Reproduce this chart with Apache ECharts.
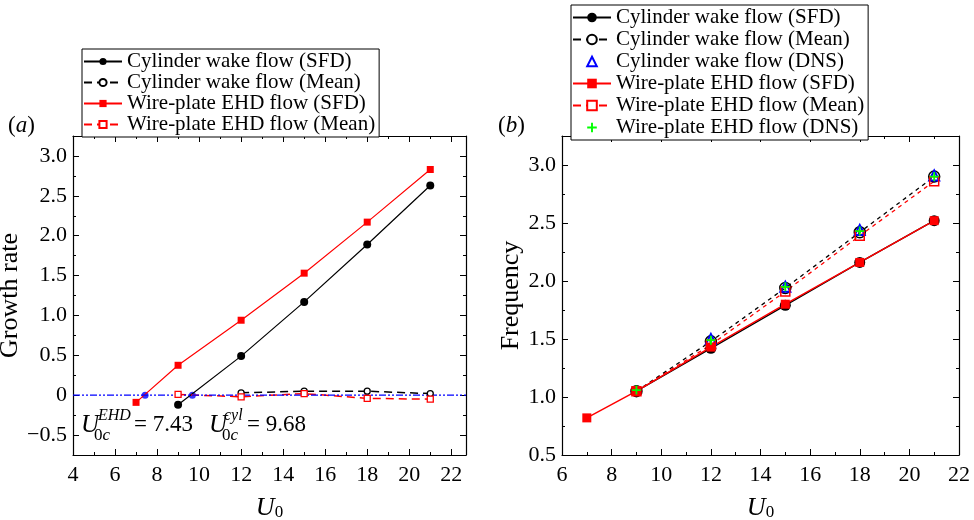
<!DOCTYPE html>
<html>
<head>
<meta charset="utf-8">
<script src="https://cdn.jsdelivr.net/npm/echarts@6/dist/echarts.min.js"></script>
<style>
  html, body { margin: 0; padding: 0; background: #fff; }
  #chart { width: 974px; height: 520px; }
</style>
</head>
<body>
<div id="chart"></div>
<script>
// ---- Panel (a): growth rate against inflow velocity U0 ----
const uCylA = [9, 12, 15, 18, 21];
const growthCylSFD = [-0.12, 0.49, 1.17, 1.89, 2.63];
const uCylMeanA = [12, 15, 18, 21];
const growthCylMean = [0.03, 0.05, 0.05, 0.02];
const uEhdA = [7, 9, 12, 15, 18, 21];
const growthEhdSFD = [-0.09, 0.375, 0.94, 1.53, 2.17, 2.83];
const uEhdMeanA = [9, 12, 15, 18, 21];
const growthEhdMean = [0.01, -0.02, 0.02, -0.04, -0.05];
const criticalU = [7.43, 9.68];
const xRangeA = [4, 22.7];
const yRangeA = [-0.75, 3.25];
const xMajorA = [4, 6, 8, 10, 12, 14, 16, 18, 20, 22];
const yMajorA = [-0.5, 0, 0.5, 1.0, 1.5, 2.0, 2.5, 3.0];

// ---- Panel (b): frequency against inflow velocity U0 ----
const uCylB = [9, 12, 15, 18, 21];
const freqCylSFD = [1.05, 1.42, 1.79, 2.16, 2.52];
const freqCylMean = [1.05, 1.48, 1.94, 2.42, 2.90];
const uCylDnsB = [12, 15, 18, 21];
const freqCylDNS = [1.50, 1.95, 2.44, 2.91];
const uEhdB = [7, 9, 12, 15, 18, 21];
const freqEhdSFD = [0.82, 1.05, 1.43, 1.80, 2.16, 2.52];
const uEhdMeanB = [9, 12, 15, 18, 21];
const freqEhdMean = [1.05, 1.45, 1.91, 2.39, 2.86];
const freqEhdDNS = [1.06, 1.49, 1.95, 2.43, 2.90];
const xRangeB = [6, 22];
const yRangeB = [0.5, 3.25];
const xMajorB = [6, 8, 10, 12, 14, 16, 18, 20, 22];
const yMajorB = [0.5, 1.0, 1.5, 2.0, 2.5, 3.0];

const NAME_CYL_SFD = 'Cylinder wake flow (SFD)';
const NAME_CYL_MEAN = 'Cylinder wake flow (Mean)';
const NAME_CYL_DNS = 'Cylinder wake flow (DNS)';
const NAME_EHD_SFD = 'Wire-plate EHD flow (SFD)';
const NAME_EHD_MEAN = 'Wire-plate EHD flow (Mean)';
const NAME_EHD_DNS = 'Wire-plate EHD flow (DNS)';

const SERIF = 'Liberation Serif, Times New Roman, serif';
const PLUS = 'path://M4,0L6,0L6,4L10,4L10,6L6,6L6,10L4,10L4,6L0,6L0,4L4,4Z';

const zip = (xs, ys) => xs.map((x, i) => [x, ys[i]]);
const isMultiple = (v, step) => Math.abs(v / step - Math.round(v / step)) < 1e-6;
const fmtSigned = v => {
  if (Math.abs(v) < 1e-9) return '0';
  const s = Math.abs(v).toFixed(1);
  return v < 0 ? '\u2212' + s : s;
};

// Four axes per direction: labelled side with minor ticks, its major ticks,
// and the mirrored side (top / right) with both tick sizes.
function axisGroup(dim, gridIndex, range, minorStep, majorStep, majors, fmt, name, nameGap, nameRich) {
  const sides = dim === 'x' ? ['bottom', 'top'] : ['left', 'right'];
  const out = [];
  sides.forEach((pos, k) => {
    const main = {
      type: 'value', gridIndex, position: pos,
      min: range[0], max: range[1], interval: minorStep,
      axisLine: { show: true, onZero: false, lineStyle: { color: '#000', width: 1.2 } },
      axisTick: { show: true, inside: true, length: 3, lineStyle: { color: '#000', width: 1 } },
      axisLabel: {
        show: k === 0,
        margin: dim === 'x' ? 9 : 6,
        color: '#000', fontFamily: SERIF, fontSize: 22,
        formatter: v => isMultiple(v, majorStep) && majors.some(m => Math.abs(m - v) < 1e-6) ? fmt(v) : ''
      },
      splitLine: { show: false }
    };
    if (k === 0) {
      Object.assign(main, {
        name, nameLocation: 'middle', nameGap,
        nameTextStyle: Object.assign({ color: '#000', fontFamily: SERIF, fontSize: 26 }, nameRich ? { rich: nameRich } : {})
      });
    }
    const major = {
      type: 'value', gridIndex, position: pos,
      min: range[0], max: range[1],
      axisLine: { show: false, onZero: false },
      axisTick: { show: true, inside: true, length: 6, customValues: majors, lineStyle: { color: '#000', width: 1 } },
      axisLabel: { show: false },
      splitLine: { show: false }
    };
    out.push(main, major);
  });
  return out;
}

const u0Rich = {
  u: { fontFamily: SERIF, fontStyle: 'italic', fontSize: 26, lineHeight: 26, verticalAlign: 'top', color: '#000' },
  s: { fontFamily: SERIF, fontSize: 17, lineHeight: 17, padding: [13, 0, 0, 0], verticalAlign: 'bottom', color: '#000' }
};

const xAxes = [
  ...axisGroup('x', 0, xRangeA, 1, 2, xMajorA, v => String(v), '{u|U}{s|0}', 22, u0Rich),
  ...axisGroup('x', 1, xRangeB, 1, 2, xMajorB, v => String(v), '{u|U}{s|0}', 22, u0Rich)
];
const yAxes = [
  ...axisGroup('y', 0, yRangeA, 0.25, 0.5, yMajorA, fmtSigned, 'Growth rate', 29),
  ...axisGroup('y', 1, yRangeB, 0.25, 0.5, yMajorB, v => v.toFixed(1), 'Frequency', 29)
];

const open = (color, width) => ({ color: '#fff', borderColor: color, borderWidth: width });
const hollow = (color, width) => ({ color: 'rgba(255,255,255,0)', borderColor: color, borderWidth: width });

const series = [
  // panel (a)
  { name: NAME_CYL_SFD, type: 'line', xAxisIndex: 0, yAxisIndex: 0, data: zip(uCylA, growthCylSFD),
    symbol: 'circle', symbolSize: 8, itemStyle: { color: '#000' }, lineStyle: { color: '#000', width: 1.2 } },
  { name: NAME_CYL_MEAN, type: 'line', xAxisIndex: 0, yAxisIndex: 0, data: zip(uCylMeanA, growthCylMean),
    symbol: 'circle', symbolSize: 6, itemStyle: open('#000', 1.3), lineStyle: { color: '#000', width: 1.5, type: [8, 5] } },
  { name: NAME_EHD_SFD, type: 'line', xAxisIndex: 0, yAxisIndex: 0, data: zip(uEhdA, growthEhdSFD),
    symbol: 'rect', symbolSize: 7, itemStyle: { color: '#ff0000' }, lineStyle: { color: '#ff0000', width: 1.2 } },
  { name: NAME_EHD_MEAN, type: 'line', xAxisIndex: 0, yAxisIndex: 0, data: zip(uEhdMeanA, growthEhdMean),
    symbol: 'rect', symbolSize: 6, itemStyle: open('#ff0000', 1.3), lineStyle: { color: '#ff0000', width: 1.5, type: [8, 5] } },
  { name: 'Neutral stability', type: 'line', xAxisIndex: 0, yAxisIndex: 0, data: [[xRangeA[0], 0], [xRangeA[1], 0]],
    symbol: 'none', lineStyle: { color: '#0000ff', width: 1.2, type: [7, 2, 2, 2, 2, 2] } },
  { name: 'Critical velocity', type: 'scatter', xAxisIndex: 0, yAxisIndex: 0, data: criticalU.map(u => [u, 0]),
    symbol: 'circle', symbolSize: 7, itemStyle: { color: '#0000ff' } },

  // panel (b)
  { name: NAME_CYL_SFD, type: 'line', xAxisIndex: 4, yAxisIndex: 4, data: zip(uCylB, freqCylSFD),
    symbol: 'circle', symbolSize: 11, itemStyle: { color: '#000' }, lineStyle: { color: '#000', width: 1.5 } },
  { name: NAME_CYL_MEAN, type: 'line', xAxisIndex: 4, yAxisIndex: 4, data: zip(uCylB, freqCylMean),
    symbol: 'circle', symbolSize: 11, itemStyle: hollow('#000', 1.5), lineStyle: { color: '#000', width: 1.3, type: [4, 4] } },
  { name: NAME_CYL_DNS, type: 'line', xAxisIndex: 4, yAxisIndex: 4, data: zip(uCylDnsB, freqCylDNS),
    symbol: 'triangle', symbolSize: 10, itemStyle: hollow('#0000ff', 2), lineStyle: { opacity: 0 } },
  { name: NAME_EHD_SFD, type: 'line', xAxisIndex: 4, yAxisIndex: 4, data: zip(uEhdB, freqEhdSFD),
    symbol: 'rect', symbolSize: 9, itemStyle: { color: '#ff0000' }, lineStyle: { color: '#ff0000', width: 1.5 } },
  { name: NAME_EHD_MEAN, type: 'line', xAxisIndex: 4, yAxisIndex: 4, data: zip(uEhdMeanB, freqEhdMean),
    symbol: 'rect', symbolSize: 9, itemStyle: hollow('#ff0000', 1.5), lineStyle: { color: '#ff0000', width: 1.3, type: [4, 4] } },
  { name: NAME_EHD_DNS, type: 'line', xAxisIndex: 4, yAxisIndex: 4, data: zip(uEhdMeanB, freqEhdDNS),
    symbol: PLUS, symbolSize: 9, itemStyle: { color: '#00ff00' }, lineStyle: { opacity: 0 } }
];

const legendText = { color: '#000', fontFamily: SERIF, fontSize: 21, lineHeight: 20 };

// text of a critical-velocity annotation, built piecewise (symbol, superscript, subscript, value)
function critLabel(x, sup, supOffset, eqOffset, val) {
  return [
    { type: 'text', x: x, y: 425, style: { text: 'U', fontFamily: SERIF, fontStyle: 'italic', fontSize: 25, fill: '#000', align: 'left', verticalAlign: 'middle' } },
    { type: 'text', x: x + supOffset, y: 416, style: { text: sup, fontFamily: SERIF, fontStyle: 'italic', fontSize: 16, fill: '#000', align: 'left', verticalAlign: 'middle' } },
    { type: 'text', x: x + 13, y: 436, style: { text: '{r|0}{i|c}', fill: '#000', align: 'left', verticalAlign: 'middle',
        rich: { r: { fontFamily: SERIF, fontSize: 17 }, i: { fontFamily: SERIF, fontSize: 17, fontStyle: 'italic' } } } },
    { type: 'text', x: x + eqOffset, y: 425, style: { text: '= ' + val, fontFamily: SERIF, fontSize: 23, fill: '#000', align: 'left', verticalAlign: 'middle' } }
  ];
}

const panelTag = (x, letter) => ({
  type: 'text', x: x, y: 126,
  style: { text: '({i|' + letter + '})', fontFamily: SERIF, fontSize: 23, fill: '#000', align: 'left', verticalAlign: 'middle',
    rich: { i: { fontFamily: SERIF, fontSize: 23, fontStyle: 'italic' } } }
});

const option = {
  animation: false,
  backgroundColor: '#fff',
  grid: [
    { left: 73, right: 508, top: 136, bottom: 65, containLabel: false, outerBoundsMode: 'none' },
    { left: 562, right: 15, top: 136, bottom: 65, containLabel: false, outerBoundsMode: 'none' }
  ],
  xAxis: xAxes,
  yAxis: yAxes,
  legend: [
    { orient: 'vertical', left: 82, top: 49, data: [NAME_CYL_SFD, NAME_CYL_MEAN, NAME_EHD_SFD, NAME_EHD_MEAN],
      itemWidth: 38, itemHeight: 9, itemGap: 0, padding: [2, 4, 2, 1], borderColor: '#000', borderWidth: 1,
      backgroundColor: '#fff', selectedMode: false, textStyle: legendText },
    { orient: 'vertical', left: 571, top: 5,
      data: [NAME_CYL_SFD, NAME_CYL_MEAN, NAME_CYL_DNS, NAME_EHD_SFD, NAME_EHD_MEAN, NAME_EHD_DNS],
      itemWidth: 38, itemHeight: 12, itemGap: 1, padding: [2, 4, 2, 1], borderColor: '#000', borderWidth: 1,
      backgroundColor: '#fff', selectedMode: false, textStyle: legendText }
  ],
  graphic: [
    panelTag(8, 'a'),
    panelTag(498, 'b'),
    ...critLabel(81, 'EHD', 17, 53, '7.43'),
    ...critLabel(209, 'cyl', 15, 38, '9.68')
  ],
  series
};

const chart = echarts.init(document.getElementById('chart'), null, { renderer: 'canvas' });
chart.setOption(option);
</script>
</body>
</html>
